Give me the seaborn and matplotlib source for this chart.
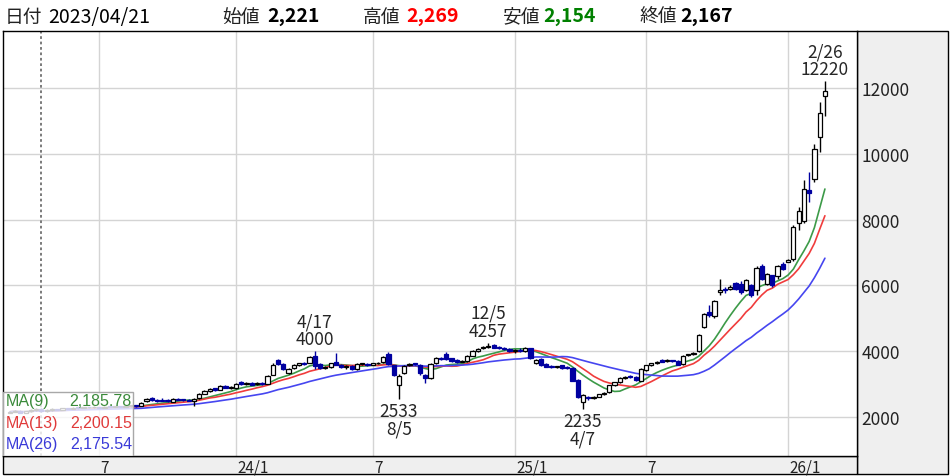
import matplotlib
matplotlib.use("Agg")
import matplotlib.pyplot as plt
import matplotlib.transforms as mtransforms
from matplotlib.patches import Rectangle
import seaborn as sns
import pandas as pd

# weekly candles, first week starts 2023-03-06, last week 2026-02-23
start_week = "2023-03-06"

opens = [
    2120, 2150, 2180, 2120, 2160, 2200, 2221, 2170, 2190, 2230,
    2210, 2250, 2240, 2270, 2260, 2290, 2280, 2300, 2270, 2310,
    2290, 2320, 2300, 2330, 2340, 2330, 2480, 2560, 2510, 2520,
    2500, 2460, 2540, 2520, 2510, 2490, 2560, 2700, 2780, 2860,
    2810, 2930, 2880, 2860, 3050, 3000, 3040, 2990, 3040, 3000,
    3280, 3720, 3600, 3340, 3480, 3570, 3620, 3650, 3850, 3600,
    3480, 3500, 3680, 3580, 3500, 3530, 3450, 3600, 3610, 3580,
    3620, 3660, 3900, 3560, 2950, 3320, 3570, 3600, 3580, 3280,
    3180, 3620, 3790, 3900, 3780, 3720, 3680, 3690, 3860, 4000,
    4080, 4120, 4170, 4110, 4090, 4070, 4000, 4040, 3990, 4080,
    3640, 3750, 3600, 3520, 3500, 3560, 3510, 3480, 3120, 2450,
    2600, 2570, 2610, 2680, 2750, 2950, 3050, 3180, 3250, 3210,
    3100, 3420, 3570, 3620, 3730, 3690, 3720, 3700, 3600, 3870,
    3900, 4000, 4740, 5200, 5080, 5800, 5900, 5900, 6080, 6050,
    5850, 6000, 5850, 6600, 6050, 6300, 6270, 6650, 6720, 6800,
    7900, 7960, 8900, 9240, 10520, 11780,
]
highs = [
    2180, 2200, 2190, 2180, 2230, 2250, 2269, 2220, 2250, 2240,
    2270, 2260, 2290, 2280, 2310, 2300, 2320, 2310, 2330, 2320,
    2340, 2330, 2350, 2360, 2350, 2440, 2560, 2590, 2540, 2580,
    2550, 2560, 2560, 2540, 2530, 2560, 2720, 2810, 2870, 2880,
    2960, 2950, 2920, 3020, 3080, 3070, 3060, 3060, 3060, 3280,
    3620, 3760, 3640, 3480, 3600, 3650, 3660, 3850, 4000, 3650,
    3540, 3640, 3950, 3600, 3560, 3560, 3620, 3640, 3640, 3650,
    3680, 3850, 3970, 3580, 3300, 3580, 3640, 3630, 3600, 3300,
    3620, 3820, 3830, 3960, 3800, 3750, 3730, 3870, 4020, 4090,
    4150, 4257, 4200, 4160, 4130, 4100, 4060, 4080, 4130, 4100,
    3750, 3780, 3640, 3560, 3540, 3580, 3540, 3500, 3140, 2700,
    2640, 2620, 2700, 2740, 2970, 3070, 3200, 3240, 3270, 3230,
    3470, 3580, 3650, 3700, 3760, 3750, 3740, 3720, 3870, 3920,
    3980, 4520, 5150, 5400, 5560, 6200, 5950, 6000, 6100, 6120,
    6200, 6050, 6580, 6640, 6380, 6320, 6620, 6700, 6800, 7850,
    8400, 9200, 9460, 10300, 11590, 12220,
]
lows = [
    2100, 2130, 2100, 2110, 2150, 2180, 2154, 2150, 2180, 2190,
    2200, 2220, 2230, 2240, 2250, 2260, 2270, 2250, 2260, 2280,
    2280, 2290, 2290, 2310, 2300, 2320, 2460, 2480, 2460, 2480,
    2450, 2440, 2500, 2490, 2470, 2340, 2540, 2680, 2760, 2780,
    2800, 2860, 2850, 2840, 2970, 2980, 2960, 2970, 2970, 2990,
    3260, 3560, 3420, 3300, 3460, 3540, 3560, 3630, 3450, 3460,
    3440, 3480, 3560, 3480, 3460, 3420, 3430, 3560, 3550, 3560,
    3600, 3640, 3580, 3240, 2533, 3300, 3540, 3560, 3280, 3020,
    3150, 3600, 3740, 3720, 3680, 3650, 3660, 3670, 3840, 3980,
    4050, 4090, 4080, 4050, 4030, 3960, 3950, 3960, 3970, 3750,
    3600, 3530, 3500, 3470, 3470, 3460, 3450, 3080, 2560, 2235,
    2520, 2540, 2590, 2650, 2730, 2930, 3020, 3160, 3180, 3100,
    3080, 3400, 3550, 3600, 3660, 3670, 3680, 3560, 3580, 3850,
    3880, 3980, 4700, 5050, 5000, 5700, 5780, 5850, 5850, 5750,
    5820, 5650, 5700, 6150, 6000, 5950, 6200, 6480, 6700, 6750,
    7700, 7900, 8540, 9150, 10050, 11160,
]
closes = [
    2150, 2180, 2120, 2160, 2200, 2221, 2167, 2190, 2230, 2210,
    2250, 2240, 2270, 2260, 2290, 2280, 2300, 2270, 2310, 2290,
    2320, 2300, 2330, 2340, 2320, 2420, 2530, 2500, 2480, 2490,
    2470, 2540, 2520, 2510, 2490, 2540, 2700, 2790, 2850, 2800,
    2940, 2880, 2890, 3000, 3000, 3040, 2980, 3030, 3000, 3250,
    3580, 3600, 3450, 3450, 3560, 3620, 3600, 3810, 3550, 3480,
    3500, 3620, 3580, 3500, 3520, 3450, 3600, 3600, 3580, 3620,
    3650, 3830, 3600, 3260, 3250, 3550, 3600, 3590, 3320, 3180,
    3600, 3800, 3760, 3750, 3700, 3680, 3700, 3850, 4000, 4070,
    4120, 4150, 4100, 4080, 4060, 3990, 4030, 3990, 4100, 3780,
    3720, 3560, 3520, 3500, 3510, 3480, 3470, 3100, 2600, 2650,
    2570, 2590, 2680, 2720, 2950, 3050, 3180, 3220, 3200, 3120,
    3450, 3560, 3620, 3680, 3680, 3720, 3700, 3580, 3850, 3900,
    3950, 4500, 5130, 5100, 5530, 5850, 5850, 5950, 5880, 5800,
    6150, 5700, 6540, 6200, 6350, 6000, 6600, 6500, 6780, 7780,
    8270, 8940, 8800, 10150, 11250, 11930,
]

tick_weeks = ["2023-07-03", "2024-01-01", "2024-07-01", "2025-01-06", "2025-06-30", "2026-01-05"]
tick_labels = ["7", "24/1", "7", "25/1", "7", "26/1"]
price_ticks = [2000, 4000, 6000, 8000, 10000, 12000]

peak_weeks = ["2024-04-15", "2024-12-02", "2026-02-23"]
peak_days = ["4/17", "12/5", "2/26"]
trough_weeks = ["2024-08-05", "2025-04-07"]
trough_days = ["8/5", "4/7"]

cursor_week = "2023-04-17"
header_items = [("日付", "2023/04/21", "black", False),
                ("始値", "2,221", "black", True),
                ("高値", "2,269", "#ff0000", True),
                ("安値", "2,154", "#008000", True),
                ("終値", "2,167", "black", True)]
header_x = [(5, 48), (222, 267), (363, 406), (503, 543), (640, 680)]

ma_windows = [9, 13, 26]
ma_colors = ["#3c9a48", "#f03c3c", "#4646f0"]
ma_text_colors = ["#3a8a3a", "#e03a3a", "#3a3ad8"]
ma_cursor_values = ["2,185.78", "2,200.15", "2,175.54"]

UP_EDGE = "black"
DOWN = "#0000a0"

sns.set_theme(style="white")
plt.rcParams["font.family"] = ["Noto Sans CJK JP", "DejaVu Sans"]

df = pd.DataFrame({"open": opens, "high": highs, "low": lows, "close": closes})
df["week"] = pd.date_range(start_week, periods=len(df), freq="7D")
df["i"] = range(len(df))
week_pos = {w.strftime("%Y-%m-%d"): i for w, i in zip(df["week"], df["i"])}

W, H = 951, 477
def fx(px):
    return px / W
def fy(py):
    return 1 - py / H

fig = plt.figure(figsize=(W / 100, H / 100), dpi=100)
fig.patch.set_facecolor("white")

# right price panel and bottom date band (behind the axes)
fig.patches.append(Rectangle((fx(857), fy(475)), fx(947.5) - fx(857), fy(31.5) - fy(475),
                             transform=fig.transFigure, facecolor="#efefef",
                             edgecolor="black", lw=1, zorder=-5))
fig.patches.append(Rectangle((fx(3), fy(475)), fx(857) - fx(3), fy(456.5) - fy(475),
                             transform=fig.transFigure, facecolor="#efefef",
                             edgecolor="black", lw=1, zorder=-5))

ax = fig.add_axes([fx(3), fy(456.5), fx(857) - fx(3), fy(31.5) - fy(456.5)])
ax.set_facecolor("white")

# moving averages
for win, col in zip(ma_windows, ma_colors):
    ma = df["close"].rolling(win, min_periods=1).mean()
    sns.lineplot(x=df["i"], y=ma, color=col, lw=1.2, ax=ax, zorder=3)

# candles
up = df["close"] >= df["open"]
for mask, face, edge in [(up, "white", UP_EDGE), (~up, DOWN, DOWN)]:
    d = df[mask]
    ax.vlines(d["i"], d["low"], d["high"], color=edge, lw=1.0, zorder=4)
    body = (d["close"] - d["open"]).abs().clip(lower=30)
    bottom = d[["open", "close"]].min(axis=1)
    ax.bar(d["i"], body, bottom=bottom, width=0.8, color=face,
           edgecolor=edge, lw=0.9, zorder=5)

# highs / lows annotations
for wk, day in zip(peak_weeks, peak_days):
    i = week_pos[wk]
    ax.annotate(f"{day}\n{highs[i]}", (i, highs[i]), xytext=(0, 2),
                textcoords="offset points", ha="center", va="bottom",
                fontsize=12.5, linespacing=1.0, zorder=6)
for wk, day in zip(trough_weeks, trough_days):
    i = week_pos[wk]
    ax.annotate(f"{lows[i]}\n{day}", (i, lows[i]), xytext=(0, -2),
                textcoords="offset points", ha="center", va="top",
                fontsize=12.5, linespacing=1.0, zorder=6)

ax.axvline(week_pos[cursor_week], color="#707070", ls=(0, (1.5, 1.5)), lw=1.3, zorder=2)

ax.set_xlim(-1.3, 161.1)
ax.set_ylim(818, 13760)
ax.set_xticks([week_pos[w] for w in tick_weeks])
ax.set_xticklabels(tick_labels)
ax.set_yticks(price_ticks)
ax.set_yticklabels([str(p) for p in price_ticks])
ax.yaxis.tick_right()
ax.tick_params(axis="x", length=0, pad=2.5, labelsize=11, colors="#222222")
ax.tick_params(axis="y", length=0, pad=3, labelsize=12.5, colors="#222222")
shift = mtransforms.ScaledTranslation(0.015, 0, fig.dpi_scale_trans)
for lab in ax.get_xticklabels():
    lab.set_horizontalalignment("left")
    lab.set_transform(lab.get_transform() + shift)
ax.grid(True, color="#d4d4d4", lw=1.0, zorder=0)
ax.set_axisbelow(True)
ax.set_xlabel("")
ax.set_ylabel("")
for sp in ax.spines.values():
    sp.set_color("black")
    sp.set_linewidth(1.0)

# MA legend box
ax.add_patch(Rectangle((0, 0), 130 / 854, 64 / 425, transform=ax.transAxes,
                       facecolor=(1, 1, 1, 0.8), edgecolor="#a8a8a8", lw=1, zorder=7))
for k, (win, col, val) in enumerate(zip(ma_windows, ma_text_colors, ma_cursor_values)):
    yy = (456.5 - (402 + 21.5 * k)) / 425
    ax.text(0.003, yy, f"MA({win})", transform=ax.transAxes, color=col,
            fontsize=11.5, family="Liberation Sans", va="center", ha="left", zorder=8)
    ax.text(0.151, yy, val, transform=ax.transAxes, color=col,
            fontsize=11.5, family="Liberation Sans", va="center", ha="right", zorder=8)

# header line
for (name, val, col, bold), (x1, x2) in zip(header_items, header_x):
    fig.text(fx(x1), fy(17), name, fontsize=13.5, va="center", ha="left", color="#222222")
    fig.text(fx(x2), fy(17), val, fontsize=14, va="center", ha="left", color=col,
             fontweight="bold" if bold else "normal")

fig.savefig("out.png", dpi=100)
plt.close(fig)
